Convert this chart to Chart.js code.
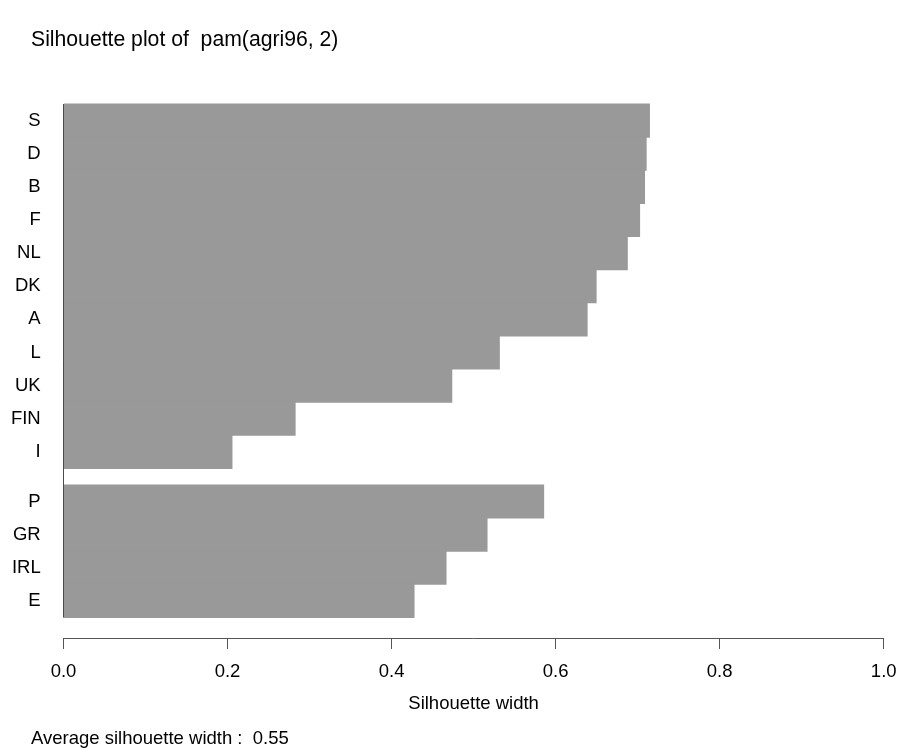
<!DOCTYPE html>
<html>
<head>
<meta charset="utf-8">
<script src="https://cdn.jsdelivr.net/npm/chart.js@4/dist/chart.umd.min.js"></script>
<style>
  html, body { margin: 0; padding: 0; background: #ffffff; }
  canvas { display: block; }
</style>
</head>
<body>
<canvas id="c" width="898" height="748"></canvas>
<script>
// ---- data ----
const countries = ['S', 'D', 'B', 'F', 'NL', 'DK', 'A', 'L', 'UK', 'FIN', 'I', 'P', 'GR', 'IRL', 'E'];
const clusters  = [1, 1, 1, 1, 1, 1, 1, 1, 1, 1, 1, 2, 2, 2, 2];
const silWidth  = [0.715, 0.711, 0.709, 0.703, 0.688, 0.650, 0.639, 0.532, 0.474, 0.283, 0.206, 0.586, 0.517, 0.467, 0.428];
const xTickValues = [0.0, 0.2, 0.4, 0.6, 0.8, 1.0];
const titleText = 'Silhouette plot of  pam(agri96, 2)';
const xAxisTitle = 'Silhouette width';

// bar slots: one unit per bar, half a unit of space between clusters (as R's plot.silhouette)
const slotCenters = [];
let pos = 0;
for (let i = 0; i < countries.length; i++) {
  if (i > 0 && clusters[i] !== clusters[i - 1]) pos += 0.5;
  slotCenters.push(pos + 0.5);
  pos += 1;
}
const totalSlots = pos;
const pad = 0.04 * totalSlots;
const avgWidth = silWidth.reduce((a, b) => a + b, 0) / silWidth.length;

const FONT = "'Liberation Sans', Arial, Helvetica, sans-serif";

// let the y tick labels extend left of the (narrow) y-scale box without being clipped
const unclipLabels = {
  id: 'unclipLabels',
  afterLayout(chart) {
    const y = chart.scales.y;
    if (y) y.left = 0;
  }
};

new Chart(document.getElementById('c'), {
  type: 'bar',
  plugins: [unclipLabels],
  data: {
    datasets: [
      {
        // zero line along the left edge of the bars (spans the bar block only)
        type: 'line',
        data: [{ x: 0, y: 0 }, { x: 0, y: totalSlots }],
        borderColor: '#333333',
        borderWidth: 1,
        pointRadius: 0,
        fill: false,
        order: 0
      },
      {
        type: 'bar',
        data: silWidth.map((v, i) => ({ x: v, y: slotCenters[i] })),
        backgroundColor: '#999999',
        borderWidth: 0,
        inflateAmount: 0,
        barPercentage: 1.03,
        categoryPercentage: 1,
        order: 1
      }
    ]
  },
  options: {
    indexAxis: 'y',
    responsive: false,
    devicePixelRatio: 1,
    animation: false,
    events: [],
    layout: { padding: { left: 31, right: 14.3, top: 0, bottom: 0 } },
    plugins: {
      legend: { display: false },
      tooltip: { enabled: false },
      title: {
        display: true,
        text: titleText,
        align: 'start',
        color: '#000000',
        font: { family: FONT, size: 21.2, weight: 'normal', lineHeight: 1.2 },
        padding: { top: 27.8, bottom: 30.3 }
      },
      subtitle: {
        display: true,
        position: 'bottom',
        align: 'start',
        text: 'Average silhouette width :  ' + avgWidth.toFixed(2),
        color: '#000000',
        font: { family: FONT, size: 18.5, weight: 'normal', lineHeight: 1.0 },
        padding: { top: 0, bottom: 0 }
      }
    },
    scales: {
      x: {
        type: 'linear',
        position: 'bottom',
        min: 0,
        max: 1,
        afterBuildTicks: (scale) => { scale.ticks = xTickValues.map(v => ({ value: v })); },
        afterFit: (scale) => { scale.height = 91.5; scale.paddingLeft = 0; scale.paddingRight = 0; },
        ticks: {
          autoSkip: false,
          maxRotation: 0,
          color: '#000000',
          padding: 11.4,
          font: { family: FONT, size: 18.5, lineHeight: 1.2 },
          callback: (v) => Number(v).toFixed(1)
        },
        grid: {
          display: true,
          drawOnChartArea: false,
          drawTicks: true,
          tickLength: 11,
          color: '#555555',
          lineWidth: 1
        },
        border: { display: true, color: '#555555', width: 1 },
        title: {
          display: true,
          text: xAxisTitle,
          color: '#000000',
          font: { family: FONT, size: 18.5, lineHeight: 1.2 },
          padding: { top: 0, bottom: 14.4 }
        }
      },
      y: {
        type: 'linear',
        position: 'left',
        reverse: true,
        offset: false,
        min: -pad,
        max: totalSlots + pad,
        afterBuildTicks: (scale) => { scale.ticks = slotCenters.map(v => ({ value: v })); },
        afterFit: (scale) => { scale.width = 32.5; scale.paddingTop = 0; scale.paddingBottom = 0; },
        ticks: {
          autoSkip: false,
          color: '#000000',
          padding: 22.8,
          font: { family: FONT, size: 18.5, lineHeight: 1.2 },
          callback: (v) => countries[slotCenters.indexOf(v)]
        },
        grid: { display: false, drawTicks: false, offset: false },
        border: { display: false }
      }
    }
  }
});
</script>
</body>
</html>
